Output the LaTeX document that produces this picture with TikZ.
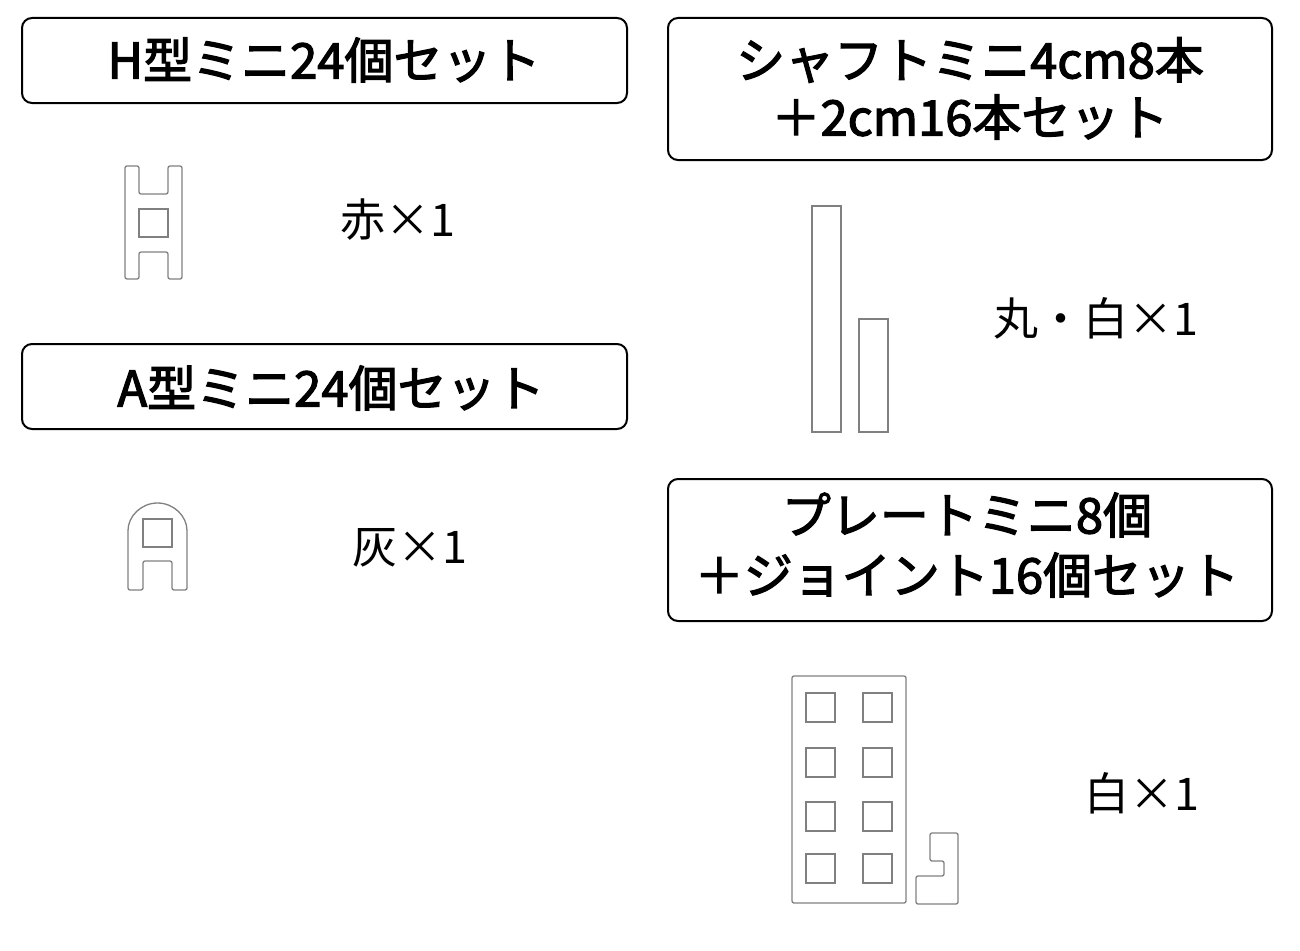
\documentclass[tikz,border=0pt]{standalone}
\usepackage{fontspec}
\newfontfamily\cjk{Noto Sans CJK JP}
\newfontfamily\cjkmed{Noto Sans CJK JP}[FakeBold=2.5]
\begin{document}
\begin{tikzpicture}[x=1pt,y=-1pt,
  titlebox/.style={draw=black,line width=2pt,rounded corners=10pt},
  titletext/.style={inner sep=0pt,font=\cjkmed\fontsize{49}{58}\selectfont,align=center},
  labeltext/.style={inner sep=0pt,font=\cjk\fontsize{45}{54}\selectfont},
  part/.style={draw=black!50,line width=1.3pt,rounded corners=2pt},
  plain/.style={draw=black!50,line width=1.3pt}]
\useasboundingbox[fill=white] (0,0) rectangle (1300,950);
% title boxes
\draw[titlebox] (22,18) rectangle (627,103);
\node[titletext] (t1) at (324,60) {H型ミニ24個セット};
\draw[titlebox] (22,344) rectangle (627,429);
\node[titletext] (t2) at (331,388) {A型ミニ24個セット};
\draw[titlebox] (668,18) rectangle (1272,160);
\node[titletext] (t3a) at (970,60) {シャフトミニ4cm8本};
\node[titletext] (t3b) at (970,117) {＋2cm16本セット};
\draw[titlebox] (668,479) rectangle (1272,621);
\node[titletext] (t4a) at (967,515) {プレートミニ8個};
\node[titletext] (t4b) at (967,575) {＋ジョイント16個セット};
% labels
\node[labeltext] (l1) at (398,220) {赤×1};
\node[labeltext] (l2) at (410,548) {灰×1};
\node[labeltext] (l3) at (1096,318) {丸・白×1};
\node[labeltext] (l4) at (1142,793) {白×1};
% H piece
\draw[part] (125,166) -- (139,166) -- (139,194) -- (168,194) -- (168,166) -- (182,166)
  -- (182,279) -- (168,279) -- (168,252) -- (139,252) -- (139,279) -- (125,279) -- cycle;
\draw[plain] (139,209) rectangle (168,237);
% A piece
\draw[part] (128,590) -- (128,532.5) arc[start angle=180,end angle=0,radius=29.5pt]
  -- (187,590) -- (172,590) -- (172,561) -- (143,561) -- (143,590) -- cycle;
\draw[plain] (143,519) rectangle (172,547);
% shafts
\draw[plain] (812,206) rectangle (841,432);
\draw[plain] (859,319) rectangle (888,432);
% plate
\draw[part] (792,676) rectangle (906,903);
\foreach \xx in {806,863}{
  \foreach \yy in {693,748,802,854}{
    \draw[plain] (\xx,\yy) rectangle ++(29,29);
  }
}
% joint
\draw[part] (930,833) -- (958,833) -- (958,904) -- (916,904) -- (916,876) -- (944,876)
  -- (944,861) -- (930,861) -- cycle;
\end{tikzpicture}
\end{document}
